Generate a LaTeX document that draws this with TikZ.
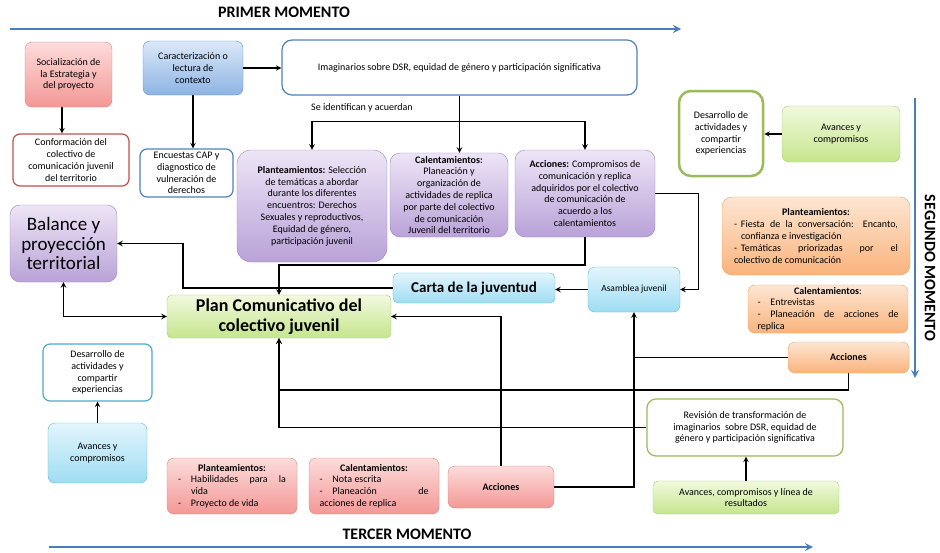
\documentclass[tikz,border=0pt]{standalone}
\usepackage{fontspec}
\setmainfont{Carlito}

\definecolor{rojoA}{HTML}{FCDCDB}
\definecolor{rojoB}{HTML}{F39896}
\definecolor{rojoBorde}{HTML}{D9837F}
\definecolor{azulA}{HTML}{DCE8F8}
\definecolor{azulB}{HTML}{8DB4E3}
\definecolor{azulBorde}{HTML}{5C8FD6}
\definecolor{moradoA}{HTML}{EDE5F6}
\definecolor{moradoB}{HTML}{B9A2D8}
\definecolor{moradoBorde}{HTML}{9B84C0}
\definecolor{verdeA}{HTML}{F1F9DF}
\definecolor{verdeB}{HTML}{C5E68C}
\definecolor{verdeBorde}{HTML}{A6CB6A}
\definecolor{cianA}{HTML}{E2F5FC}
\definecolor{cianB}{HTML}{9FDDF3}
\definecolor{cianBorde}{HTML}{5FB9D3}
\definecolor{naranjaA}{HTML}{FDE6D3}
\definecolor{naranjaB}{HTML}{F9B37C}
\definecolor{naranjaBorde}{HTML}{F2A263}
\definecolor{lineaRoja}{HTML}{C0504D}
\definecolor{lineaAzul}{HTML}{4F81BD}
\definecolor{lineaVerde}{HTML}{9BBB59}
\definecolor{lineaCian}{HTML}{4BACC6}
\definecolor{azulMomento}{HTML}{4A7EBB}

% guion con sangria colgante para las listas
\newcommand{\guion}[1][13pt]{\par\noindent\hangindent=#1\hangafter=1\makebox[#1][l]{-}\ignorespaces}

\begin{document}
\begin{tikzpicture}[x=1pt,y=-1pt,>=stealth,
    linea/.style={line width=1.4pt},
    caja/.style={rounded corners=7pt,align=center,inner sep=2pt,font=\fontsize{10}{11.8}\selectfont},
    rojo/.style={caja,draw=rojoBorde,top color=rojoA,bottom color=rojoB},
    azul/.style={caja,draw=azulBorde,top color=azulA,bottom color=azulB},
    morado/.style={caja,draw=moradoBorde,top color=moradoA,bottom color=moradoB},
    verde/.style={caja,draw=verdeBorde,top color=verdeA,bottom color=verdeB},
    cian/.style={caja,draw=cianBorde,top color=cianA,bottom color=cianB},
    naranja/.style={caja,draw=naranjaBorde,top color=naranjaA,bottom color=naranjaB},
    blanco/.style={caja,draw=#1,line width=1.2pt,fill=white},
    lista/.style={align=justify,text width=#1},
    titulo/.style={font=\fontsize{16}{19}\selectfont\bfseries},
    momento/.style={->,draw=azulMomento,line width=2.5pt}]

\useasboundingbox (0,0) rectangle (940,552);

% primer momento
\node[titulo] (primer) at (284,12) {PRIMER MOMENTO};
\coordinate (m1a) at (10,29);
\coordinate (m1b) at (681,29);
\draw[momento] (m1a) -- (m1b);

\node[rojo,minimum width=87pt,minimum height=65pt] (social) at (68.5,74.5) {Socialización de\\la Estrategia y\\del proyecto};
\node[blanco=lineaRoja,minimum width=116pt,minimum height=52pt] (conform) at (71,160) {Conformación del\\colectivo de\\comunicación juvenil\\del territorio};
\node[azul,minimum width=100pt,minimum height=54pt] (caract) at (193,68) {Caracterización o\\lectura de\\contexto};
\node[blanco=lineaAzul,minimum width=93pt,minimum height=48pt] (encuestas) at (186.5,173) {Encuestas CAP y\\diagnostico de\\vulneración de\\derechos};
\node[blanco=lineaAzul,rounded corners=10pt,minimum width=355pt,minimum height=55pt] (imagin) at (459.5,67.5) {Imaginarios sobre DSR, equidad de género y participación significativa};
\node[font=\fontsize{10}{12}\selectfont] (seid) at (362,108) {Se identifican y acuerdan};

\node[morado,rounded corners=14pt,minimum width=150pt,minimum height=112pt] (plantA) at (312,206) {\textbf{Planteamientos:} Selección\\de temáticas a abordar\\durante los diferentes\\encuentros: Derechos\\Sexuales y reproductivos,\\Equidad de género,\\participación juvenil};
\node[morado,rounded corners=10pt,minimum width=118pt,minimum height=84pt] (calentA) at (449,195) {\textbf{Calentamientos:}\\Planeación y\\organización de\\actividades de replica\\por parte del colectivo\\de comunicación\\Juvenil del territorio};
\node[morado,rounded corners=10pt,minimum width=140pt,minimum height=87pt] (accionA) at (585,193.5) {\textbf{Acciones:} Compromisos de\\comunicación y replica\\adquiridos por el colectivo\\de comunicación de\\acuerdo a los\\calentamientos};

% centro
\node[cian,minimum width=92pt,minimum height=45pt,font=\fontsize{9.5}{11}\selectfont] (asamblea) at (634,289.5) {Asamblea juvenil};
\node[cian,rounded corners=5pt,minimum width=162pt,minimum height=30pt,font=\fontsize{15}{17}\selectfont\bfseries] (carta) at (474,288) {Carta de la juventud};
\node[morado,rounded corners=10pt,minimum width=107pt,minimum height=77pt,font=\fontsize{19}{19.5}\selectfont] (balance) at (63.5,243.5) {Balance y\\proyección\\territorial};
\node[verde,rounded corners=5pt,minimum width=224pt,minimum height=43pt,font=\fontsize{18}{20.5}\selectfont\bfseries] (plan) at (279,316.5) {Plan Comunicativo del\\colectivo juvenil};

% segundo momento
\node[titulo,rotate=-90] (segundo) at (930,268) {SEGUNDO MOMENTO};
\coordinate (m2a) at (915,98);
\coordinate (m2b) at (915,378);
\draw[momento] (m2a) -- (m2b);

\node[blanco=lineaVerde,line width=2.5pt,rounded corners=12pt,minimum width=84pt,minimum height=85pt] (desarrolloB) at (721,133.5) {Desarrollo de\\actividades y\\compartir\\experiencias};
\node[verde,minimum width=118pt,minimum height=56pt] (avancesB) at (841,134) {Avances y\\compromisos};
\node[naranja,rounded corners=10pt,lista=164pt,minimum width=188pt,minimum height=78pt] (plantB) at (816,236) {{\centering\textbf{Planteamientos:}\par}\guion[7pt] Fiesta de la conversación: Encanto,\linebreak confianza e investigación\guion[7pt] Temáticas priorizadas por el\linebreak colectivo de comunicación};
\node[naranja,lista=141pt,inner ysep=1pt,minimum width=160pt,minimum height=48pt] (calentB) at (828,309) {{\centering\textbf{Calentamientos}:\par}\guion Entrevistas\guion Planeación de acciones de\linebreak replica};
\node[naranja,minimum width=121pt,minimum height=31pt,font=\fontsize{10}{12}\selectfont\bfseries] (accionB) at (848.5,357.5) {Acciones};

% tercer momento
\node[titulo] (tercer) at (407,534) {TERCER MOMENTO};
\coordinate (m3a) at (49,547);
\coordinate (m3b) at (813,547);
\draw[momento] (m3a) -- (m3b);

\node[blanco=lineaCian,minimum width=109pt,minimum height=57pt] (desarrolloL) at (97.5,372.5) {Desarrollo de\\actividades y\\compartir\\experiencias};
\node[cian,minimum width=99pt,minimum height=60pt] (avancesL) at (97.5,453) {Avances y\\compromisos};
\node[rojo,lista=108pt,minimum width=130pt,minimum height=56pt] (plantC) at (232,486) {{\centering\textbf{Planteamientos:}\par}\guion Habilidades para la\linebreak vida\guion Proyecto de vida};
\node[rojo,lista=109pt,minimum width=130pt,minimum height=56pt] (calentC) at (374,486) {{\centering\textbf{Calentamientos:}\par}\guion Nota escrita\guion Planeación de\linebreak acciones de replica};
\node[rojo,minimum width=106pt,minimum height=42pt,font=\fontsize{10}{12}\selectfont\bfseries] (accionC) at (501,487) {Acciones};
\node[blanco=lineaVerde,rounded corners=9pt,minimum width=196pt,minimum height=57pt] (revision) at (745,427.5) {Revisión de transformación de\\imaginarios~ sobre DSR, equidad de\\género y participación significativa};
\node[verde,rounded corners=5pt,minimum width=186pt,minimum height=33pt] (avancesC) at (746,497.5) {Avances, compromisos y línea de\\resultados};

% conectores
\coordinate (codo1) at (279,265);
\coordinate (codo2) at (183,288);
\coordinate (codo3) at (848.5,390);
\path (imagin.south) ++(0,26) coordinate (rama);

\draw[linea,->] ([xshift=-6.5pt]social.south) -- ([xshift=-9pt]conform.north);
\draw[linea,->] (caract.south) -- (caract.south |- encuestas.north);
\draw[linea,->] (caract.east) -- (caract.east -| imagin.west);
\draw[linea] (imagin.south) -- (rama);
\draw[linea,->] (rama) -- (rama |- calentA.north);
\draw[linea,->] (rama) -| (plantA.north);
\draw[linea,->] (rama) -| (accionA.north);
\draw[linea,->] (accionA.south) |- (codo1) -- (plan.north);
\draw[linea,->] (accionA.east) -- ++(43,0) |- (asamblea.east);
\draw[linea,->] (asamblea.west) -- (asamblea.west -| carta.east);
\draw[linea,->] (carta.west) -- (codo2) |- (balance.east);
\draw[linea,<->] (balance.south) |- (plan.west);
\draw[linea,->] (accionC.north) |- (plan.east);
\draw[linea,->] (accionC.east) -| (asamblea.south);
\draw[linea] (accionB.west) -- (accionB.west -| asamblea.south);
\draw[linea,->] (accionB.south) -- (codo3) -| (plan.south);
\draw[linea,->] (revision.west) -| (plan.south);
\draw[linea,->] (avancesC.north) -- (avancesC.north |- revision.south);
\draw[linea,->] (avancesL.north) -- (desarrolloL.south);
\draw[linea,->] (avancesB.west) -- (avancesB.west -| desarrolloB.east);

\end{tikzpicture}
\end{document}
